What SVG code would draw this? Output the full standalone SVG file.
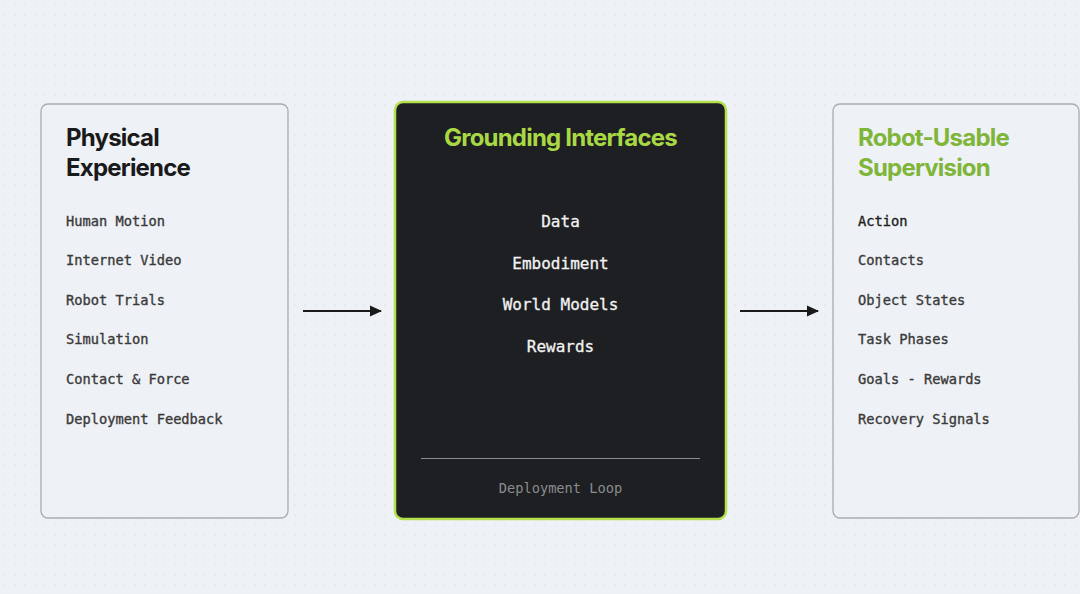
<svg xmlns="http://www.w3.org/2000/svg" width="1080" height="594" viewBox="0 0 1080 594">
<defs>
<pattern id="dots" width="10" height="10" patternUnits="userSpaceOnUse">
<rect width="10" height="10" fill="#eef1f5"/>
<circle cx="5" cy="5" r="0.8" fill="#e0e4e9"/>
</pattern>
<marker id="arrow" viewBox="0 0 12 12" refX="11" refY="6" markerWidth="12" markerHeight="12" markerUnits="userSpaceOnUse" orient="auto">
<path d="M0,0.5 L12,6 L0,11.5 z" fill="#1a1a1a"/>
</marker>
<style>
.side{fill:#eef1f5;fill-opacity:0.6;stroke:#a9acb0;stroke-width:1.3}
.title{font-family:Inter,"Liberation Sans",sans-serif;font-weight:700;font-size:24px;letter-spacing:-0.8px}
.item{font-family:"DejaVu Sans Mono","Liberation Mono",monospace;font-size:13.7px;fill:#3a3a3a;stroke:#3a3a3a;stroke-width:0.35}
.citem{font-family:"DejaVu Sans Mono","Liberation Mono",monospace;font-size:16px;fill:#f2f2f2;stroke:#f2f2f2;stroke-width:0.3;text-anchor:middle}
.conn{stroke:#1a1a1a;stroke-width:2;fill:none}
</style>
</defs>
<rect width="1080" height="594" fill="url(#dots)"/>
<g id="physical-experience">
<rect class="side" x="41" y="104" width="247" height="414" rx="7"/>
<text class="title" x="66" y="146" fill="#1a1a1a">Physical</text>
<text class="title" x="66" y="176" fill="#1a1a1a">Experience</text>
<text class="item" x="66" y="225.5">Human Motion</text>
<text class="item" x="66" y="265">Internet Video</text>
<text class="item" x="66" y="304.5">Robot Trials</text>
<text class="item" x="66" y="344">Simulation</text>
<text class="item" x="66" y="384">Contact &amp; Force</text>
<text class="item" x="66" y="423.5">Deployment Feedback</text>
</g>
<g id="grounding-interfaces">
<rect x="395" y="102" width="331" height="417" rx="8" fill="#1e1f22" stroke="#b4e04c" stroke-width="2.5"/>
<text class="title" x="560.5" y="146" fill="#a9d845" text-anchor="middle">Grounding Interfaces</text>
<text class="citem" x="560.5" y="227">Data</text>
<text class="citem" x="560.5" y="268.5">Embodiment</text>
<text class="citem" x="560.5" y="310">World Models</text>
<text class="citem" x="560.5" y="351.5">Rewards</text>
<line x1="421" y1="458.5" x2="700" y2="458.5" stroke="#8a8b8e" stroke-width="1"/>
<text x="560.5" y="493" font-family="DejaVu Sans Mono,Liberation Mono,monospace" font-size="13.7" fill="#8a8b8e" text-anchor="middle">Deployment Loop</text>
</g>
<g id="robot-usable-supervision">
<rect class="side" x="833" y="104" width="246" height="414" rx="7"/>
<text class="title" x="858" y="146" fill="#7fb539">Robot-Usable</text>
<text class="title" x="858" y="176" fill="#7fb539">Supervision</text>
<text class="item" x="858" y="225.5" style="fill:#1e1e1e;stroke:#1e1e1e">Action</text>
<text class="item" x="858" y="265">Contacts</text>
<text class="item" x="858" y="304.5">Object States</text>
<text class="item" x="858" y="344">Task Phases</text>
<text class="item" x="858" y="384">Goals - Rewards</text>
<text class="item" x="858" y="423.5">Recovery Signals</text>
</g>
<g id="connectors">
<line class="conn" x1="303" y1="311" x2="381" y2="311" marker-end="url(#arrow)"/>
<line class="conn" x1="740" y1="311" x2="818" y2="311" marker-end="url(#arrow)"/>
</g>
</svg>
